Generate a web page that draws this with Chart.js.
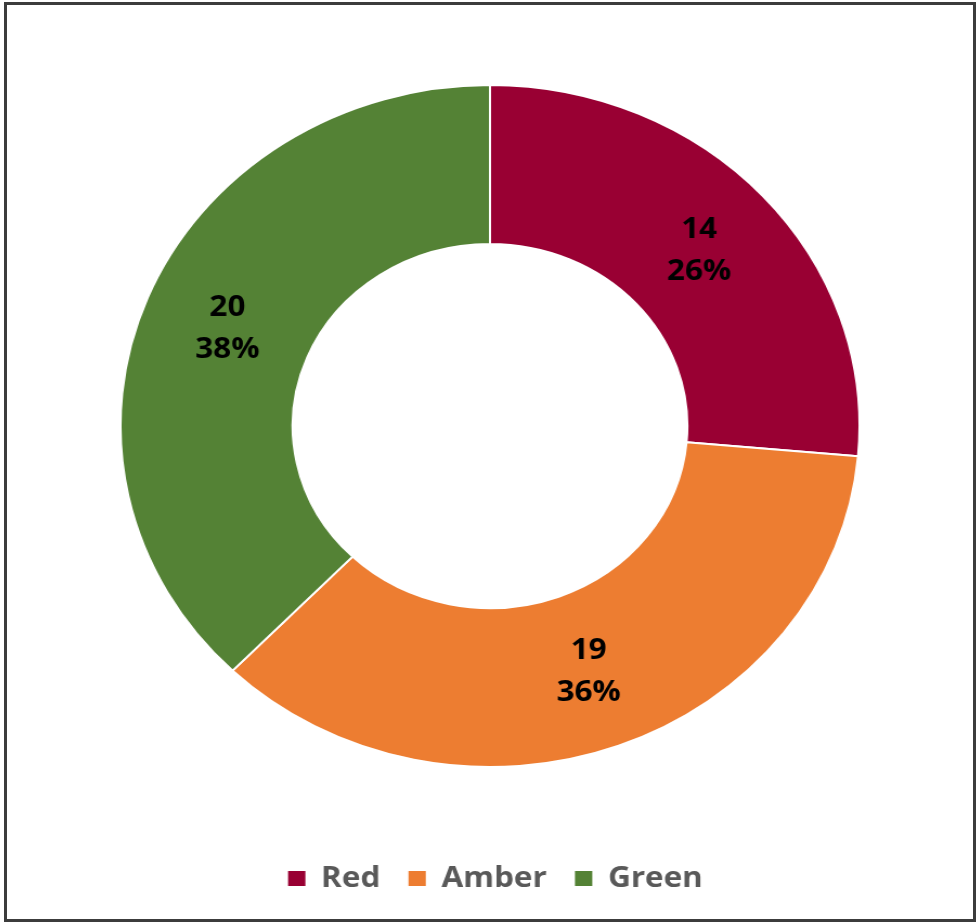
<!DOCTYPE html>
<html>
<head>
<meta charset="utf-8">
<script src="https://cdn.jsdelivr.net/npm/chart.js@4.4.1/dist/chart.umd.min.js"></script>
<style>
  html, body { margin: 0; padding: 0; background: #ffffff; width: 976px; height: 922px; overflow: hidden; }
  #frame { position: absolute; left: 4px; top: 2px; width: 966px; height: 914px; border: 3px solid #3c3c3c; background: #fff; }
  #c { position: absolute; left: 148px; top: 0px; transform: scaleX(1.0836); transform-origin: 342px 0; }
</style>
</head>
<body>
<div id="frame"></div>
<canvas id="c" width="684" height="922"></canvas>
<script>
const categories = ["Red", "Amber", "Green"];
const values = [14, 19, 20];
const colors = ["#990033", "#ED7D31", "#548235"];

const labelPlugin = {
  id: 'sliceLabels',
  afterDatasetsDraw(chart) {
    const ctx = chart.ctx;
    const meta = chart.getDatasetMeta(0);
    const data = chart.data.datasets[0].data;
    const total = data.reduce((a, b) => a + b, 0);
    ctx.save();
    ctx.fillStyle = '#000000';
    ctx.font = 'bold 29px "Open Sans", sans-serif';
    ctx.textAlign = 'center';
    ctx.textBaseline = 'middle';
    meta.data.forEach((arc, i) => {
      const p = arc.tooltipPosition();
      const pct = Math.round(data[i] / total * 100) + '%';
      ctx.fillText(String(data[i]), p.x, p.y - 20);
      ctx.fillText(pct, p.x, p.y + 22);
    });
    ctx.restore();
  }
};

const legendShift = {
  id: 'legendShift',
  afterLayout(chart) {
    if (chart.legend) { chart.legend.left += 5; chart.legend.right += 5; }
  }
};

new Chart(document.getElementById('c'), {
  type: 'doughnut',
  data: {
    labels: categories,
    datasets: [{
      data: values,
      backgroundColor: colors,
      borderColor: '#ffffff',
      borderWidth: 2
    }]
  },
  options: {
    responsive: false,
    animation: false,
    devicePixelRatio: 1,
    cutout: '53.4%',
    layout: { padding: { top: 14, bottom: 19, left: 0, right: 0 } },
    plugins: {
      tooltip: { enabled: false },
      legend: {
        position: 'bottom',
        labels: {
          color: '#595959',
          font: { family: '"Open Sans", sans-serif', size: 29, weight: 'bold' },
          boxWidth: 16,
          boxHeight: 15,
          padding: 26,
          generateLabels(chart) {
            const items = Chart.overrides.doughnut.plugins.legend.labels.generateLabels(chart);
            items.forEach(it => { it.lineWidth = 0; it.strokeStyle = 'rgba(0,0,0,0)'; it.fontColor = '#595959'; });
            return items;
          }
        }
      }
    }
  },
  plugins: [labelPlugin, legendShift]
});
</script>
</body>
</html>
